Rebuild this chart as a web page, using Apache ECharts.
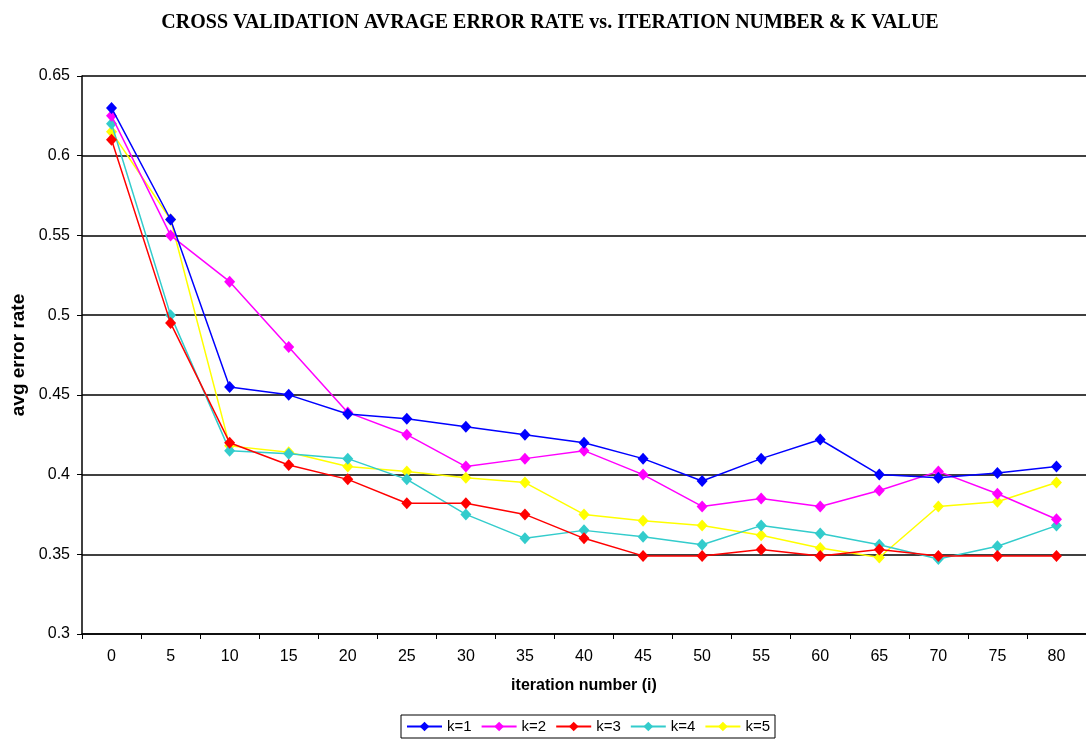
<!DOCTYPE html>
<html>
<head>
<meta charset="utf-8">
<script src="https://cdn.jsdelivr.net/npm/echarts@6/dist/echarts.min.js"></script>
<style>
html,body{margin:0;padding:0;background:#fff;}
#c{width:1086px;height:739px;}
</style>
</head>
<body>
<div id="c"></div>
<script>
var categories = ['0','5','10','15','20','25','30','35','40','45','50','55','60','65','70','75','80'];
var k1 = [0.63,0.56,0.455,0.45,0.438,0.435,0.43,0.425,0.42,0.41,0.396,0.41,0.422,0.40,0.398,0.401,0.405];
var k2 = [0.625,0.55,0.521,0.48,0.439,0.425,0.405,0.41,0.415,0.40,0.38,0.385,0.38,0.39,0.402,0.388,0.372];
var k3 = [0.61,0.495,0.42,0.406,0.397,0.382,0.382,0.375,0.36,0.349,0.349,0.353,0.349,0.353,0.349,0.349,0.349];
var k4 = [0.62,0.50,0.415,0.413,0.41,0.397,0.375,0.36,0.365,0.361,0.356,0.368,0.363,0.356,0.347,0.355,0.368];
var k5 = [0.615,0.56,0.418,0.414,0.405,0.402,0.398,0.395,0.375,0.371,0.368,0.362,0.354,0.348,0.38,0.383,0.395];
var seriesNames = ['k=1','k=2','k=3','k=4','k=5'];
var seriesData = [k1,k2,k3,k4,k5];
var colors = ['#0000FF','#FF00FF','#FF0000','#33CCCC','#FFFF00'];

var chart = echarts.init(document.getElementById('c'), null, {renderer:'canvas'});
var series = seriesNames.map(function(n,i){
  return {
    name:n, type:'line', data:seriesData[i],
    symbol:'diamond', symbolSize:[11,12],
    lineStyle:{width:1.5,color:colors[i]},
    itemStyle:{color:colors[i]},
    z: 10 - i
  };
});
chart.setOption({
  animation:false,
  backgroundColor:'#fff',
  title:{
    text:'CROSS VALIDATION AVRAGE ERROR RATE vs. ITERATION NUMBER & K VALUE',
    left:545, top:8, textAlign:'center',
    textStyle:{fontFamily:'Liberation Serif',fontWeight:'bold',fontSize:20,color:'#000'}
  },
  legend:{
    data:seriesNames,
    left:401, bottom:1,
    borderColor:'#000', borderWidth:1,
    padding:[4,5,4,5],
    itemWidth:35, itemHeight:12, itemGap:9,
    textStyle:{fontFamily:'Liberation Sans',fontSize:15,color:'#000'}
  },
  grid:{left:82, right:-2, top:76, bottom:105, containLabel:false},
  xAxis:{
    type:'category', data:categories, boundaryGap:true,
    name:'iteration number (i)', nameLocation:'middle', nameGap:44,
    nameTextStyle:{fontFamily:'Liberation Sans',fontWeight:'bold',fontSize:16,color:'#000'},
    axisLine:{lineStyle:{color:'#000',width:1.5}},
    axisTick:{show:true,length:5,lineStyle:{color:'#000'}},
    axisLabel:{fontFamily:'Liberation Sans',fontSize:16,color:'#000',margin:15}
  },
  yAxis:{
    type:'value', min:0.3, max:0.65, interval:0.05,
    name:'avg error rate', nameLocation:'middle', nameGap:52, nameRotate:90,
    nameTextStyle:{fontFamily:'Liberation Sans',fontWeight:'bold',fontSize:19,color:'#000'},
    axisLine:{show:true,lineStyle:{color:'#000',width:1.5}},
    axisTick:{show:true,length:5,lineStyle:{color:'#000'}},
    axisLabel:{fontFamily:'Liberation Sans',fontSize:16,color:'#000',margin:12,
      formatter:function(v){return String(+v.toFixed(2));}},
    splitLine:{show:true,lineStyle:{color:'#000',width:1.5}}
  },
  series:series
});
</script>
</body>
</html>
